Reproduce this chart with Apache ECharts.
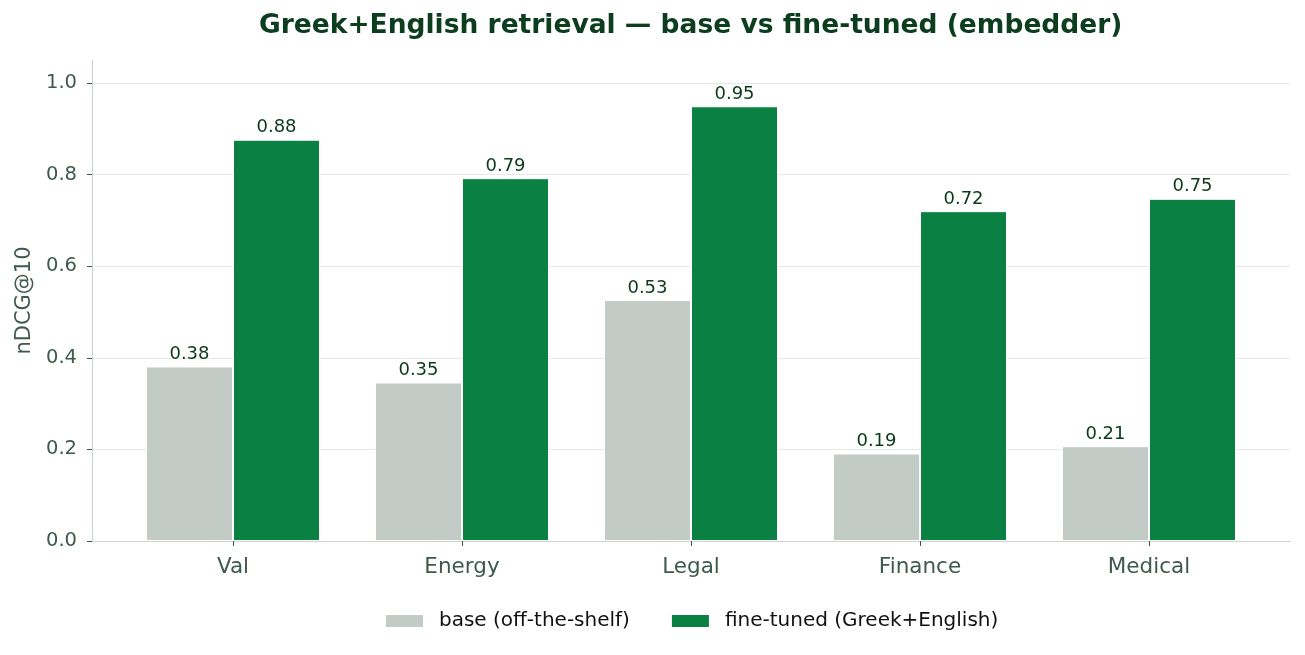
<!DOCTYPE html>
<html><head><meta charset="utf-8">
<script src="https://cdn.jsdelivr.net/npm/echarts@6/dist/echarts.min.js"></script>
<style>html,body{margin:0;padding:0;background:#fff}#c{width:1305px;height:655px}</style>
</head><body><div id="c"></div>
<script>
const categories = ['Val', 'Energy', 'Legal', 'Finance', 'Medical'];
const baseValues = [0.381, 0.346, 0.526, 0.191, 0.207];
const tunedValues = [0.876, 0.792, 0.949, 0.720, 0.747];
const seriesNames = ['base (off-the-shelf)', 'fine-tuned (Greek+English)'];
const yTicks = [0, 0.2, 0.4, 0.6, 0.8, 1.0];

const FONT = 'DejaVu Sans';
const chart = echarts.init(document.getElementById('c'), null, {renderer: 'canvas'});
const labelCfg = {show: true, position: 'top', distance: 3, color: '#0a3a1a', fontFamily: FONT, fontSize: 18,
  formatter: p => p.value.toFixed(2)};
chart.setOption({
  animation: false,
  textStyle: {fontFamily: FONT},
  title: {text: 'Greek+English retrieval — base vs fine-tuned (embedder)', left: 254, top: 8,
    textStyle: {fontFamily: FONT, fontWeight: 'bold', fontSize: 26.5, color: '#0b3d1e'}},
  legend: {top: 606, left: 379, itemWidth: 39, itemHeight: 14, itemGap: 40, icon: 'rect',
    textStyle: {fontFamily: FONT, fontSize: 20, color: '#111', padding: [0, 0, 0, 10]}, data: seriesNames},
  grid: [
    {left: 92, right: 15, top: 60, bottom: 114},
    {left: 118.5, right: 41.5, top: 60, bottom: 114}
  ],
  xAxis: [
    {type: 'category', gridIndex: 0, data: [], axisLine: {show: true, lineStyle: {color: '#ccd5d0', width: 1.2}},
      axisTick: {show: false}, axisLabel: {show: false}},
    {type: 'category', gridIndex: 1, data: categories, axisLine: {show: false},
      axisTick: {show: true, alignWithLabel: true, length: 5, lineStyle: {color: '#3d5a4a'}},
      axisLabel: {fontFamily: FONT, fontSize: 21.5, color: '#3d5a4a', margin: 15}}
  ],
  yAxis: [
    {type: 'value', gridIndex: 0, min: 0, max: 1.05, interval: 0.2, name: 'nDCG@10', nameLocation: 'middle', nameGap: 56,
      nameTextStyle: {fontFamily: FONT, fontSize: 21, color: '#3d5a4a'},
      axisLine: {show: true, lineStyle: {color: '#ccd5d0', width: 1.2}},
      axisTick: {show: true, length: 5, customValues: yTicks, lineStyle: {color: '#3d5a4a'}},
      axisLabel: {fontFamily: FONT, fontSize: 19.5, color: '#3d5a4a', margin: 15, customValues: yTicks,
        formatter: v => v.toFixed(1)},
      splitLine: {show: true, lineStyle: {color: '#e6e9e7', width: 1.2}}},
    {type: 'value', gridIndex: 1, min: 0, max: 1.05, show: false, splitLine: {show: false}}
  ],
  series: [
    {name: seriesNames[0], type: 'bar', xAxisIndex: 1, yAxisIndex: 1, data: baseValues, barGap: '0%', barCategoryGap: '24%',
      itemStyle: {color: '#c3cbc6', borderColor: '#fff', borderWidth: 1}, label: labelCfg},
    {name: seriesNames[1], type: 'bar', xAxisIndex: 1, yAxisIndex: 1, data: tunedValues, barGap: '0%', barCategoryGap: '24%',
      itemStyle: {color: '#0b8043', borderColor: '#fff', borderWidth: 1}, label: labelCfg}
  ]
});
</script></body></html>
